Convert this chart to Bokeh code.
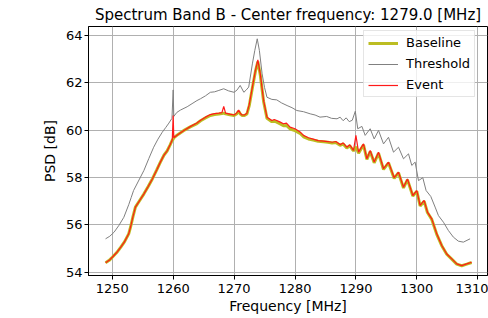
from bokeh.plotting import figure
from bokeh.models import Range1d, Legend, LegendItem, FixedTicker
from bokeh.embed import file_html
from bokeh.resources import INLINE

title_text = "Spectrum Band B - Center frequency: 1279.0 [MHz]"
x_label = "Frequency [MHz]"
y_label = "PSD [dB]"
x_ticks = [1250, 1260, 1270, 1280, 1290, 1300, 1310]
y_ticks = [54, 56, 58, 60, 62, 64]

freq_ev = [1248.9, 1249.5, 1250.0, 1250.7, 1251.4, 1252.0, 1252.7, 1253.0, 1253.4, 1253.8,
           1254.5, 1255.2, 1255.9, 1256.6, 1257.3, 1257.9, 1258.5, 1259.0, 1259.5, 1259.85,
           1260.0, 1260.1, 1260.8, 1261.7, 1262.8, 1263.9, 1264.5, 1265.3, 1266.1, 1266.8,
           1267.5, 1268.0, 1268.3, 1268.6, 1269.3, 1270.0, 1270.4, 1270.75, 1271.0, 1271.3,
           1271.7, 1272.1, 1272.5, 1273.0, 1273.5, 1273.9, 1274.3, 1274.85, 1275.4, 1276.2,
           1276.6, 1277.0, 1277.5, 1278.1, 1278.6, 1279.2, 1280.0, 1280.9, 1281.4, 1282.2,
           1283.0, 1283.8, 1284.7, 1285.4, 1286.1, 1286.7, 1287.4, 1287.9, 1288.5, 1289.0,
           1289.6, 1290.0, 1290.43, 1291.25, 1291.8, 1292.34, 1293.0, 1293.71, 1294.53, 1295.35,
           1296.28, 1296.99, 1297.81, 1298.46, 1299.34, 1300.0, 1300.54, 1301.2, 1301.74, 1302.45,
           1303.27, 1304.09, 1304.91, 1305.73, 1306.55, 1307.37, 1308.19, 1309.0]

event = [54.40, 54.50, 54.63, 54.82, 55.06, 55.28, 55.62, 55.90, 56.35, 56.75,
         57.03, 57.31, 57.62, 57.95, 58.32, 58.65, 58.95, 59.12, 59.38, 59.58,
         60.62, 59.68, 59.82, 59.98, 60.15, 60.30, 60.42, 60.55, 60.66, 60.70,
         60.72, 60.74, 61.00, 60.72, 60.68, 60.64, 60.72, 60.85, 60.72, 60.64,
         60.64, 60.71, 61.10, 61.82, 62.52, 62.97, 62.38, 61.25, 60.55, 60.41,
         60.45, 60.41, 60.35, 60.27, 60.30, 60.13, 60.06, 59.91, 59.78, 59.68,
         59.62, 59.56, 59.54, 59.52, 59.49, 59.52, 59.39, 59.46, 59.28, 59.38,
         59.14, 59.78, 59.07, 59.42, 58.79, 59.14, 58.65, 59.07, 58.37, 58.65,
         57.99, 58.23, 57.59, 57.94, 57.24, 57.45, 56.82, 57.03, 56.54, 56.25,
         55.62, 55.13, 54.77, 54.56, 54.35, 54.28, 54.35, 54.42]

baseline = [54.40, 54.50, 54.63, 54.82, 55.06, 55.28, 55.62, 55.90, 56.35, 56.75,
            57.03, 57.31, 57.62, 57.95, 58.32, 58.65, 58.95, 59.12, 59.38, 59.58,
            59.62, 59.68, 59.82, 59.98, 60.14, 60.28, 60.40, 60.52, 60.62, 60.66,
            60.68, 60.70, 60.72, 60.69, 60.65, 60.62, 60.68, 60.80, 60.69, 60.62,
            60.62, 60.68, 61.05, 61.78, 62.48, 62.90, 62.33, 61.20, 60.50, 60.36,
            60.38, 60.34, 60.27, 60.19, 60.20, 60.05, 59.98, 59.85, 59.72, 59.63,
            59.58, 59.53, 59.51, 59.49, 59.46, 59.48, 59.36, 59.42, 59.25, 59.34,
            59.12, 59.30, 59.03, 59.38, 58.76, 59.10, 58.62, 59.03, 58.34, 58.62,
            57.96, 58.20, 57.56, 57.91, 57.22, 57.42, 56.80, 57.00, 56.52, 56.23,
            55.60, 55.12, 54.76, 54.55, 54.34, 54.27, 54.34, 54.41]

freq_thr = [1248.9, 1249.6, 1250.3, 1251.1, 1251.9, 1252.7, 1253.1, 1253.5, 1254.3, 1255.2,
            1256.0, 1256.8, 1257.5, 1258.2, 1258.8, 1259.3, 1259.8, 1260.0, 1260.1, 1260.6,
            1261.2, 1262.3, 1263.1, 1263.9, 1264.5, 1265.3, 1266.1, 1266.8, 1267.5, 1268.3,
            1269.1, 1270.0, 1270.5, 1271.0, 1271.6, 1272.0, 1272.4, 1273.0, 1273.4, 1273.8,
            1274.15, 1274.6, 1275.0, 1275.4, 1276.2, 1277.0, 1277.8, 1278.7, 1279.5, 1280.3,
            1281.4, 1282.5, 1283.3, 1284.1, 1285.2, 1286.0, 1286.9, 1287.4, 1287.9, 1288.4,
            1288.9, 1289.4, 1289.9, 1290.3, 1290.98, 1291.52, 1292.34, 1293.0, 1293.71, 1294.53,
            1295.35, 1296.17, 1296.99, 1297.81, 1298.63, 1299.17, 1299.72, 1300.27, 1300.98, 1301.52,
            1302.29, 1303.0, 1303.55, 1304.37, 1305.18, 1306.0, 1306.82, 1307.64, 1308.74]

threshold = [55.41, 55.52, 55.69, 55.98, 56.32, 56.85, 57.15, 57.45, 57.85, 58.30,
             58.80, 59.28, 59.62, 59.91, 60.12, 60.30, 60.50, 61.70, 60.58, 60.75,
             60.85, 60.99, 61.12, 61.25, 61.33, 61.45, 61.60, 61.62, 61.68, 61.75,
             61.66, 61.60, 61.70, 61.89, 61.60, 61.70, 61.82, 62.80, 63.37, 63.86,
             63.37, 62.38, 61.80, 61.39, 61.30, 61.28, 61.15, 61.04, 60.95, 60.83,
             60.78, 60.69, 60.64, 60.55, 60.58, 60.50, 60.48, 60.55, 60.40, 60.52,
             60.36, 60.42, 60.80, 60.06, 60.16, 59.78, 60.06, 59.63, 59.99, 59.42,
             59.70, 59.07, 59.28, 58.79, 59.00, 58.51, 58.65, 57.87, 57.99, 57.45,
             57.20, 56.75, 56.39, 56.11, 55.76, 55.48, 55.31, 55.27, 55.41]

FONT = "DejaVu Sans"

p = figure(width=488, height=318, output_backend="svg", toolbar_location=None,
           x_range=Range1d(1246.1, 1311.6), y_range=Range1d(53.86, 64.38),
           min_border_left=88, min_border_right=1, min_border_top=0, min_border_bottom=43,
           background_fill_color="white", border_fill_color="white")

p.title.text = title_text
p.title.align = "center"
p.title.text_font = FONT
p.title.text_font_size = "15px"
p.title.text_font_style = "normal"
p.title.text_color = "black"
p.title.standoff = 6

p.outline_line_color = "black"
p.outline_line_width = 1
p.outline_line_alpha = 1

for ax in (p.xaxis[0], p.yaxis[0]):
    ax.axis_line_color = "black"
    ax.major_tick_in = 0
    ax.major_tick_out = 4
    ax.minor_tick_line_color = None
    ax.major_label_text_font = FONT
    ax.major_label_text_font_size = "13px"
    ax.major_label_text_color = "black"
    ax.axis_label_text_font = FONT
    ax.axis_label_text_font_size = "14px"
    ax.axis_label_text_font_style = "normal"
    ax.axis_label_text_color = "black"

p.xaxis[0].ticker = FixedTicker(ticks=x_ticks)
p.yaxis[0].ticker = FixedTicker(ticks=y_ticks)
p.xaxis[0].axis_label = x_label
p.yaxis[0].axis_label = y_label
p.xaxis[0].major_label_standoff = 4
p.xaxis[0].axis_label_standoff = 2
p.yaxis[0].major_label_standoff = 2
p.yaxis[0].axis_label_standoff = 5

p.grid.grid_line_color = "#b0b0b0"
p.grid.grid_line_width = 1
p.grid.grid_line_alpha = 1

r_base = p.line(freq_ev, baseline, line_color="#bcbd22", line_width=3)
r_thr = p.line(freq_thr, threshold, line_color="#808080", line_width=1)
r_ev = p.line(freq_ev, event, line_color="#ff1a1a", line_width=1.2)

legend = Legend(items=[LegendItem(label="Baseline", renderers=[r_base]),
                       LegendItem(label="Threshold", renderers=[r_thr]),
                       LegendItem(label="Event", renderers=[r_ev])],
                location=(275, 178))
legend.label_text_font = FONT
legend.label_text_font_size = "13px"
legend.label_text_color = "black"
legend.glyph_width = 30
legend.glyph_height = 14
legend.label_height = 14
legend.label_standoff = 8
legend.spacing = 6
legend.padding = 4
legend.margin = 0
legend.border_line_color = "#cccccc"
legend.border_line_width = 1
legend.background_fill_color = "white"
legend.background_fill_alpha = 0.8
p.add_layout(legend)

open("out.html", "w").write(file_html(p, INLINE))
